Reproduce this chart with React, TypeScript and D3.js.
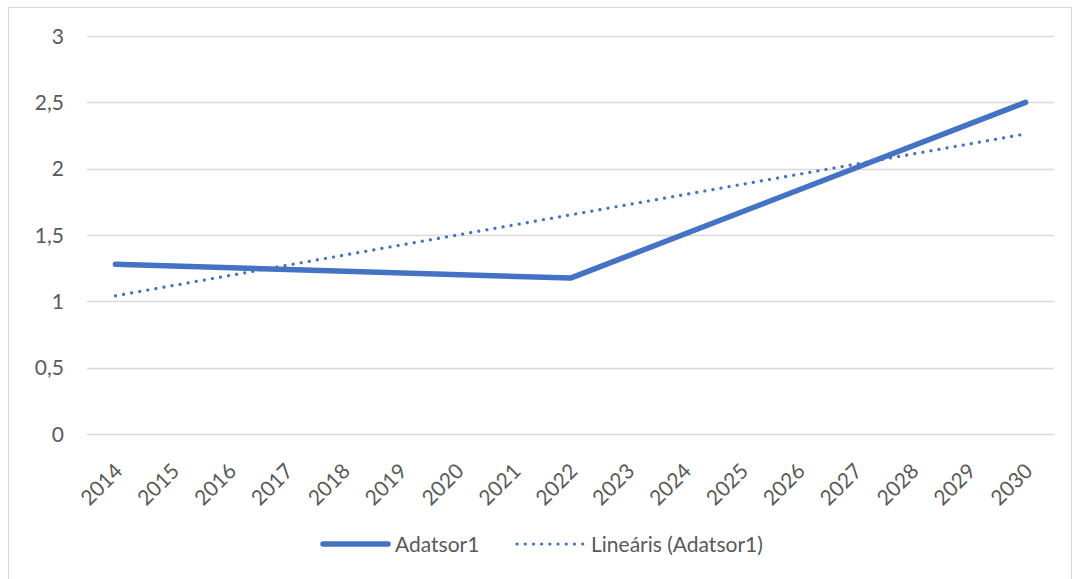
import React from "react";
import * as d3 from "d3";

const years = ["2014","2015","2016","2017","2018","2019","2020","2021","2022","2023","2024","2025","2026","2027","2028","2029","2030"];
const adatsor1: (number | null)[] = [1.28, null, null, null, null, null, null, null, 1.175, null, null, null, null, null, null, null, 2.5];
const yTicks = [0, 0.5, 1, 1.5, 2, 2.5, 3];
const seriesName = "Adatsor1";
const trendName = "Lineáris (Adatsor1)";

const W = 1076, H = 579;
const FONT = "Lato, 'Open Sans', sans-serif";
const BLUE = "#4472C4";

export default function App() {
  const x = d3.scaleBand<string>().domain(years).range([87, 1054]);
  const cx = (y: string) => (x(y) as number) + x.bandwidth() / 2;
  const y = d3.scaleLinear().domain([0, 3]).range([434, 36]);

  const pts = years.map((yr, i) => ({ yr, i, v: adatsor1[i] })).filter(d => d.v !== null) as { yr: string; i: number; v: number }[];
  // least squares trend over category index
  const mx = d3.mean(pts, d => d.i) as number;
  const my = d3.mean(pts, d => d.v) as number;
  const slope = (d3.sum(pts, d => (d.i - mx) * (d.v - my))) / (d3.sum(pts, d => (d.i - mx) ** 2));
  const icpt = my - slope * mx;
  const trend = [0, years.length - 1].map(i => ({ yr: years[i], v: icpt + slope * i }));

  const line = d3.line<{ yr: string; v: number }>().x(d => cx(d.yr)).y(d => y(d.v));
  const fmt = (v: number) => String(v).replace(".", ",");

  return (
    <svg width={W} height={H} style={{ position: "absolute", left: 0, top: 0, fontFamily: FONT }}>
      <rect x={0} y={0} width={W} height={H} fill="#fff" />
      <rect x={8.5} y={7.5} width={1063} height={575} fill="none" stroke="#d9d9d9" />
      {yTicks.map(t => (
        <g key={t}>
          <line x1={87} x2={1054} y1={Math.round(y(t)) + 0.5} y2={Math.round(y(t)) + 0.5} stroke="#d9d9d9" strokeWidth={1.5} />
          <text x={64} y={y(t)} dy="0.36em" textAnchor="end" fontSize={21} fill="#595959">{fmt(t)}</text>
        </g>
      ))}
      {years.map(yr => (
        <text key={yr} transform={`translate(${cx(yr) - 2},${462}) rotate(-45)`} textAnchor="end" dy="0.7em" fontSize={21} fill="#595959">{yr}</text>
      ))}
      <path d={line(pts) as string} fill="none" stroke={BLUE} strokeWidth={5.5} strokeLinecap="round" strokeLinejoin="round" />
      <path d={line(trend) as string} fill="none" stroke={BLUE} strokeWidth={3.2} strokeLinecap="round" strokeDasharray="0.1 8.1" />
      <g>
        <line x1={323} x2={388} y1={544} y2={544} stroke={BLUE} strokeWidth={5.5} strokeLinecap="round" />
        <text x={395} y={544} dy="0.36em" fontSize={21} fill="#595959">{seriesName}</text>
        <line x1={517} x2={583} y1={544} y2={544} stroke={BLUE} strokeWidth={3.2} strokeLinecap="round" strokeDasharray="0.1 8.1" />
        <text x={591} y={544} dy="0.36em" fontSize={21} fill="#595959">{trendName}</text>
      </g>
    </svg>
  );
}
